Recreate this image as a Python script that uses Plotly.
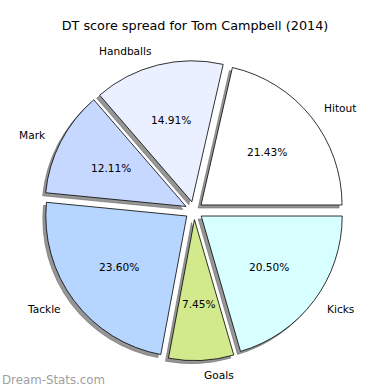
import math
import plotly.graph_objects as go

# ---- data ----
categories = ["Hitout", "Handballs", "Mark", "Tackle", "Goals", "Kicks"]
percent_values = [21.43, 14.91, 12.11, 23.60, 7.45, 20.50]
slice_colors = ["#ffffff", "#eaf0ff", "#c6d8ff", "#b6d6ff", "#d2ea8c", "#d8ffff"]
title_text = "DT score spread for Tom Campbell (2014)"
watermark_text = "Dream-Stats.com"

# ---- geometry (pixels) ----
W = H = 390
CX, CY = 194.0, 210.6      # pie centre in px (from top-left)
R = 141.0                   # radius px
PULL = 0.064
SHADOW_DX, SHADOW_DY = -3.0, 3.0
FONT = "DejaVu Sans"

S = 2 * R * (1 + PULL)
total = sum(percent_values)
ROTATION = 90 - 360.0 * percent_values[0] / total


def dom(cx, cy):
    return dict(x=[(cx - S / 2) / W, (cx + S / 2) / W],
                y=[1 - (cy + S / 2) / H, 1 - (cy - S / 2) / H])


shadow_colors = ["rgb(150,150,150)"] * len(categories)

fig = go.Figure()
fig.add_trace(go.Pie(
    labels=categories, values=percent_values, sort=False,
    direction="counterclockwise", rotation=ROTATION,
    pull=[PULL] * len(categories),
    marker=dict(colors=shadow_colors, line=dict(color="rgb(105,105,105)", width=0.6)),
    textinfo="none", hoverinfo="skip", showlegend=False,
    domain=dom(CX + SHADOW_DX, CY + SHADOW_DY),
))
fig.add_trace(go.Pie(
    labels=categories, values=percent_values, sort=False,
    direction="counterclockwise", rotation=ROTATION,
    pull=[PULL] * len(categories),
    marker=dict(colors=slice_colors, line=dict(color="black", width=0.8)),
    textinfo="none", hoverinfo="skip", showlegend=False,
    domain=dom(CX, CY),
))

annotations = []
start = 0.0
for name, v in zip(categories, percent_values):
    ang = start + 360.0 * v / total / 2
    start += 360.0 * v / total
    c, s = math.cos(math.radians(ang)), math.sin(math.radians(ang))
    ex, ey = CX + PULL * R * c, CY - PULL * R * s
    px, py = ex + 0.6 * R * c, ey - 0.6 * R * s
    lx, ly = ex + 1.1 * R * c, ey - 1.1 * R * s
    annotations.append(dict(x=px / W, y=1 - py / H, xref="paper", yref="paper",
                            text="%.2f%%" % v, showarrow=False,
                            xanchor="center", yanchor="middle",
                            font=dict(family=FONT, size=10.6, color="black")))
    annotations.append(dict(x=lx / W, y=1 - ly / H, xref="paper", yref="paper",
                            text=name, showarrow=False,
                            xanchor="left" if c > 0 else "right", yanchor="middle",
                            font=dict(family=FONT, size=10.6, color="black")))

annotations.append(dict(x=0, y=1 - 379.5 / H, xref="paper", yref="paper",
                        text=watermark_text, showarrow=False,
                        xanchor="left", yanchor="middle",
                        font=dict(family=FONT, size=11.8, color="#a0a0a0")))

fig.update_layout(
    width=W, height=H,
    margin=dict(l=0, r=0, t=0, b=0),
    paper_bgcolor="white", plot_bgcolor="white",
    title=dict(text=title_text, x=0.5, xanchor="center",
               y=1 - 25.7 / H, yanchor="middle",
               font=dict(family=FONT, size=12.8, color="black")),
    annotations=annotations,
    showlegend=False,
)

fig.write_html("out.html", config={"displayModeBar": False},
               post_script="document.body.style.margin='0';document.body.style.overflow='hidden';")
